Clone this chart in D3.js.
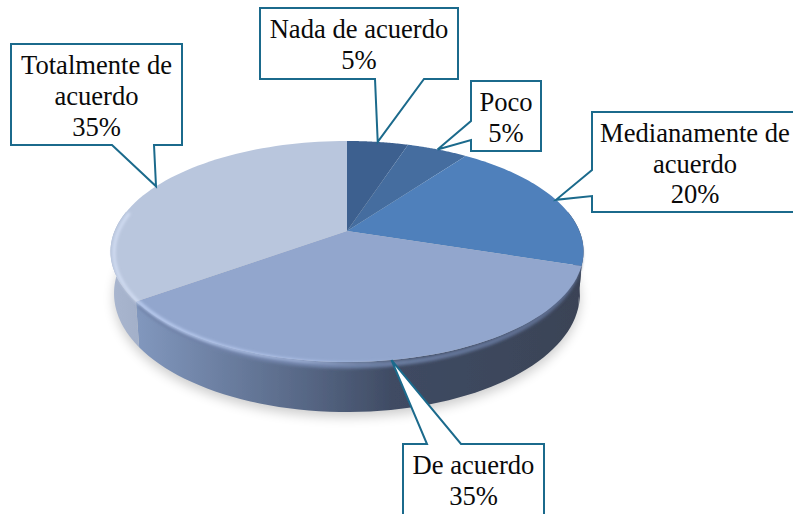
<!DOCTYPE html>
<html><head><meta charset="utf-8">
<script src="https://cdnjs.cloudflare.com/ajax/libs/d3/7.8.5/d3.min.js"></script>
<style>html,body{margin:0;padding:0;background:#fff}svg{display:block}</style>
</head><body><svg id="c" width="793" height="514"></svg>
<script>
const categories = ["Nada de acuerdo","Poco","Medianamente de acuerdo","De acuerdo","Totalmente de acuerdo"];
const values = [5,5,20,35,35];
const labelLines = [["Nada de acuerdo","5%"],["Poco","5%"],["Medianamente de","acuerdo","20%"],["De acuerdo","35%"],["Totalmente de","acuerdo","35%"]];
const topColors = ["#3d608f","#446d9f","#4f80bb","#92a6cd","#b9c6dd"];
// callout layout: box rectangle, side the pointer leaves from, pointer base, text baselines
const boxes = [
 {x:260,y:8,w:198,h:71,side:"bottom",b:[375,424],base:[38,69]},
 {x:471,y:81,w:70,h:70,side:"left",b:[121,140],base:[111,142]},
 {x:592,y:112,w:205,h:100,side:"left",b:[170,196],base:[142,173,203],cx:695},
 {x:403,y:444,w:141,h:75,side:"top",b:[427,461],base:[474,505]},
 {x:11,y:44,w:171,h:101,side:"bottom",b:[112,154],base:[74,105,136]}
];
const W=793,H=514,apex=[347,231],A=232.4,B=106.7,p=0.1855;
const svg=d3.select("#c");
const defs=svg.append("defs");
const hx=d3.scaleLinear().domain([0,1]).range([110,583]);
function grad(id,stops){
  const g=defs.append("linearGradient").attr("id",id).attr("gradientUnits","userSpaceOnUse")
   .attr("x1",hx(0)).attr("x2",hx(1)).attr("y1",0).attr("y2",0);
  stops.forEach(s=>g.append("stop").attr("offset",s[0]).attr("stop-color",s[1]).attr("stop-opacity",s[2]===undefined?1:s[2]));
}
grad("wallDe",[[0,"#8a9dc2"],[0.06,"#8197bd"],[0.25,"#6a7d9f"],[0.42,"#566684"],[0.6,"#3f4b63"],[1,"#3a4356"]]);
grad("wallTo",[[0,"#a9b6cf"],[0.06,"#a3b0c9"]]);
grad("rimHi",[[0,"#dbe5f7",1],[0.05,"#bed0f3",1],[0.4,"#b3c6ee",0.85],[0.6,"#a9bde6",0.15],[0.68,"#a9bde6",0]]);
grad("rimDark",[[0,"#6f82a8",1],[0.45,"#6f82a8",1],[0.7,"#66779b",1],[1,"#5a6a8c",1]]);
const bl=(id,s)=>defs.append("filter").attr("id",id).attr("x","-20%").attr("y","-20%").attr("width","140%").attr("height","140%").append("feGaussianBlur").attr("stdDeviation",s);
bl("sh",6);bl("soft",1.5);bl("fine",0.45);

const pie=d3.pie().sort(null).value(d=>d);
const arcs=pie(values);
function P(a,r=1,d=0){
  const u=Math.sin(a)*r,v=-Math.cos(a)*r,k=1/(1-p*v);
  const sx=d?0.985:1;
  const dep=d?d*(40+10*v):0;
  return [apex[0]+A*u*k*sx, apex[1]+B*v*k+dep];
}
const line=d3.line();
const TAU=Math.PI*2, samp=(a0,a1)=>d3.range(0,61).map(i=>a0+(a1-a0)*i/60);
const rimPts=(a0,a1,d=0)=>samp(a0,a1).map(a=>P(a,1,d));
const right=Math.PI/2-Math.asin(p), left=TAU-right;

// ground shadow
svg.append("path").attr("d",line(rimPts(0,TAU,1))+"Z").attr("fill","#000").attr("opacity",0.2)
  .attr("filter","url(#sh)").attr("transform","translate(0,5)");

const pieG=svg.append("g").attr("filter","url(#fine)");
// walls for the slices facing the viewer
arcs.forEach((d,i)=>{
  const a0=Math.max(d.startAngle,right),a1=Math.min(d.endAngle,left);
  if(a1<=a0) return;
  const pts=rimPts(a0,a1).concat(rimPts(a0,a1,1).reverse());
  pieG.append("path").attr("d",line(pts)+"Z")
   .attr("fill",i===3?"url(#wallDe)":i===4?"url(#wallTo)":"#3a4356");
});
// soft transition between wall and top face
pieG.append("path").attr("d",line(rimPts(right,arcs[3].endAngle,0.08)))
  .attr("fill","none").attr("stroke","url(#rimDark)").attr("stroke-width",5).attr("filter","url(#soft)");
// top faces
arcs.forEach((d,i)=>{
  const pts=[apex].concat(rimPts(d.startAngle,d.endAngle));
  pieG.append("path").attr("d",line(pts)+"Z").attr("fill",topColors[i]);
});
// bevel highlights along the front rim
pieG.append("path").attr("d",line(rimPts(arcs[3].startAngle+0.5,arcs[3].endAngle,0.02)))
  .attr("fill","none").attr("stroke","url(#rimHi)").attr("stroke-width",3).attr("filter","url(#soft)");
pieG.append("path").attr("d",line(rimPts(arcs[4].startAngle,left,0.03)))
  .attr("fill","none").attr("stroke","#d6e1f6").attr("stroke-width",2.5).attr("filter","url(#soft)");

// callouts, tips at the middle of each slice's rim
const sg=svg.append("g");
arcs.forEach((d,i)=>{
  const b=boxes[i],tip=P((d.startAngle+d.endAngle)/2);
  const x0=b.x,x1=b.x+b.w,y0=b.y,y1=b.y+b.h;let pts;
  if(b.side==="bottom")pts=[[x0,y0],[x1,y0],[x1,y1],[b.b[1],y1],tip,[b.b[0],y1],[x0,y1]];
  if(b.side==="left")pts=[[x0,y0],[x1,y0],[x1,y1],[x0,y1],[x0,b.b[1]],tip,[x0,b.b[0]]];
  if(b.side==="top")pts=[[x0,y0],[b.b[0],y0],tip,[b.b[1],y0],[x1,y0],[x1,y1],[x0,y1]];
  sg.append("path").attr("d",line(pts)+"Z").attr("fill","#fff").attr("stroke","#1b6a8c").attr("stroke-width",2).attr("stroke-linejoin","miter");
  const cx=b.cx||(x0+x1)/2;
  sg.selectAll(null).data(labelLines[i]).join("text")
    .attr("x",cx).attr("y",(t,j)=>b.base[j]).attr("text-anchor","middle")
    .attr("font-family","'Liberation Serif',serif").attr("font-size",26.6).attr("fill","#0a0a0a").text(t=>t);
});
</script></body></html>
